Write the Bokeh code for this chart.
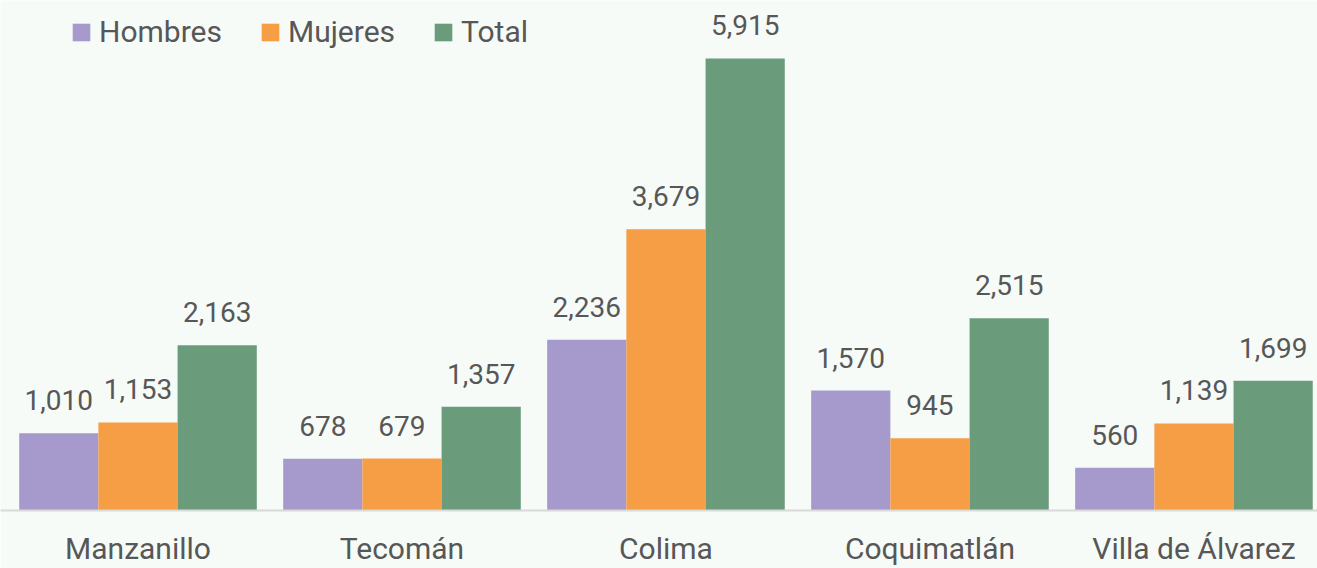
from bokeh.plotting import figure
from bokeh.models import ColumnDataSource, Range1d, FixedTicker, Legend, LegendItem
from bokeh.core.properties import value
from bokeh.embed import file_html
from bokeh.resources import INLINE

categories = ["Manzanillo", "Tecomán", "Colima", "Coquimatlán", "Villa de Álvarez"]
series_names = ["Hombres", "Mujeres", "Total"]
hombres = [1010, 678, 2236, 1570, 560]
mujeres = [1153, 679, 3679, 945, 1139]
total = [2163, 1357, 5915, 2515, 1699]
colors = ["#a59acb", "#f59e46", "#6a9c7b"]

BG = "#f6fbf8"
TXT = "#575757"
FONT = "Roboto"

p = figure(width=1317, height=568, output_backend="svg", toolbar_location=None,
           x_range=Range1d(-0.0208, 4.968), y_range=Range1d(0, 6674),
           min_border_left=0, min_border_right=0, min_border_top=0, min_border_bottom=0)
p.background_fill_color = BG
p.border_fill_color = BG
p.outline_line_color = None
p.grid.visible = False
p.yaxis.visible = False

bw = 0.3
offsets = [-0.3, 0.0, 0.3]
renderers = []
for k, (name, vals) in enumerate(zip(series_names, [hombres, mujeres, total])):
    xs = [i + 0.5 + offsets[k] for i in range(len(categories))]
    src = ColumnDataSource(dict(x=xs, top=vals, lab=[f"{v:,}" for v in vals]))
    r = p.vbar(x="x", top="top", width=bw, bottom=0, source=src,
               fill_color=colors[k], line_color=None)
    renderers.append(r)
    p.text(x="x", y="top", text="lab", source=src, text_align="center",
           text_baseline="alphabetic", y_offset=-33, text_font=value(FONT),
           text_font_size="28px", text_color=TXT)

ax = p.xaxis[0]
ax.ticker = FixedTicker(ticks=[i + 0.5 for i in range(len(categories))])
ax.major_label_overrides = {i + 0.5: c for i, c in enumerate(categories)}
ax.major_tick_line_color = None
ax.minor_tick_line_color = None
ax.major_tick_out = 0
ax.major_tick_in = 0
ax.axis_line_color = "#d9d9d9"
ax.axis_line_width = 2
ax.major_label_text_font = FONT
ax.major_label_text_font_size = "30px"
ax.major_label_text_color = TXT
ax.major_label_standoff = 20

legend = Legend(items=[LegendItem(label=n, renderers=[r]) for n, r in zip(series_names, renderers)],
                orientation="horizontal", location=(70, 461),
                glyph_width=22, glyph_height=22, label_standoff=7, spacing=37,
                padding=0, margin=0, border_line_color=None, background_fill_alpha=0,
                label_text_font=FONT, label_text_font_size="30px", label_text_color=TXT)
p.add_layout(legend, "center")

open("out.html", "w").write(file_html(p, INLINE))
